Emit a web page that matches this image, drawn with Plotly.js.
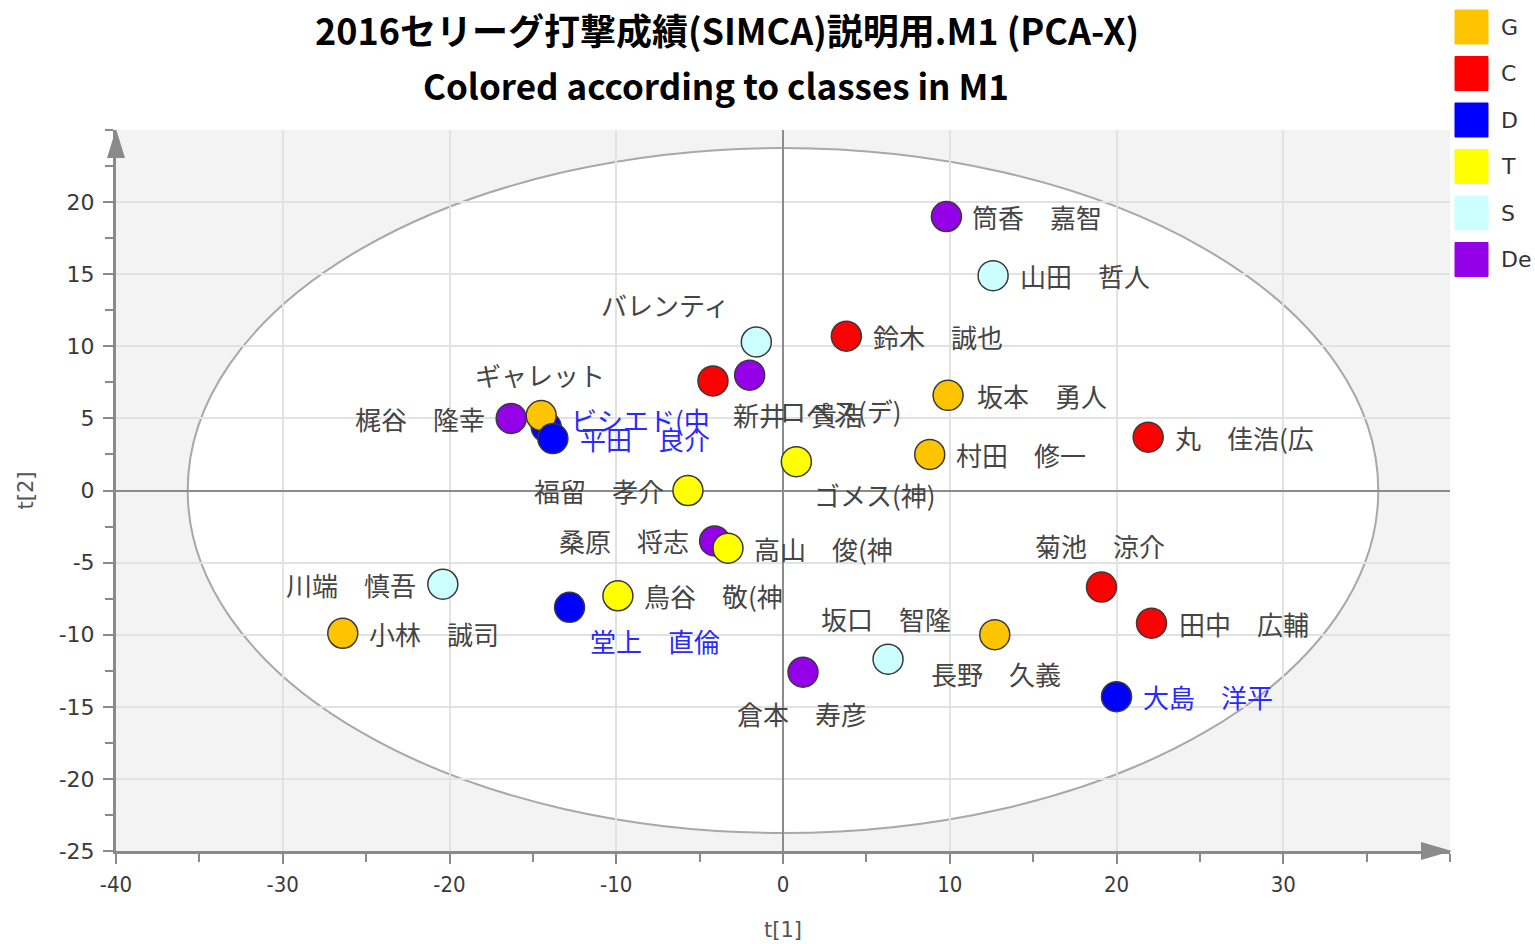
<!DOCTYPE html>
<html><head><meta charset="utf-8">
<script src="https://cdn.plot.ly/plotly-3.0.1.min.js"></script>
<style>html,body{margin:0;padding:0;background:#fff;} #chart{width:1535px;height:944px;}</style>
</head><body><div id="chart"></div>
<script>
// ---- data ----
const players = ["筒香　嘉智","山田　哲人","鈴木　誠也","バレンティ","新井　貴浩","ロペス(デ)","坂本　勇人","丸　佳浩(広","村田　修一","ゴメス(神)","福留　孝介","梶谷　隆幸","ビシエド(中","ギャレット","平田　良介","桑原　将志","高山　俊(神","川端　慎吾","小林　誠司","堂上　直倫","鳥谷　敬(神","倉本　寿彦","坂口　智隆","長野　久義","菊池　涼介","田中　広輔","大島　洋平"];
const teams = ["De","S","C","S","C","De","G","C","G","T","T","De","D","G","D","De","T","S","G","D","T","De","S","G","C","C","D"];
const t1 = [9.8,12.6,3.8,-1.6,-4.2,-2.0,9.9,21.9,8.8,0.8,-5.7,-16.3,-14.2,-14.5,-13.8,-4.1,-3.3,-20.4,-26.4,-12.8,-9.9,1.2,6.3,12.7,19.1,22.1,20.0];
const t2 = [19.0,14.9,10.7,10.3,7.6,8.0,6.6,3.7,2.5,2.0,0.0,5.0,4.4,5.2,3.6,-3.5,-4.0,-6.5,-9.9,-8.1,-7.3,-12.6,-11.7,-10.0,-6.7,-9.2,-14.3];
const classes = ["G","C","D","T","S","De"];
const xTicks = [-40,-30,-20,-10,0,10,20,30];
const yTicks = [-25,-20,-15,-10,-5,0,5,10,15,20];
const titleLine1 = "2016セリーグ打撃成績(SIMCA)説明用.M1 (PCA-X)";
const titleLine2 = "Colored according to classes in M1";
const ellipseT1 = 35.7, ellipseT2 = 23.75; // Hotelling T2 ellipse semi-axes

// ---- style ----
const classColors = {G:"#FFC400", C:"#FF0000", D:"#0000FF", T:"#FFFF00", S:"#CCFFFF", De:"#9400E8"};
// label placement: [anchor, dx px, dy px]
const labelPlace = [
 ["l",24,0],["l",25,0],["l",25,0],["r",-25,37],["l",18,-34],["l",28,-35],["l",27,0],["l",25,0],["l",24,0],["l",16,-33],
 ["r",-22,0],["r",-24,0],["l",23,8],["c",-1,41],["l",25,0],["r",-24,0],["l",24,0],["r",-25,0],["l",24,0],["l",18,-33],
 ["l",24,0],["l",-68,-41],["l",-69,41],["l",-66,-39],["l",-68,42],["l",25,0],["l",24,0]
];
const anchorMap = {l:"left", r:"right", c:"center"};
const labelFont = "Noto Sans CJK JP, sans-serif";
const axisGray = "#8a8a8a";

const trace = {
  type: "scatter", mode: "markers",
  x: t1, y: t2, text: players,
  marker: {size: 30, color: teams.map(t => classColors[t]), line: {color: "#3a3a3a", width: 1.5}},
  hoverinfo: "text", showlegend: false, cliponaxis: false
};

const annotations = players.map((p, i) => ({
  x: t1[i], y: t2[i], xref: "x", yref: "y", text: p, showarrow: false,
  xanchor: anchorMap[labelPlace[i][0]], yanchor: "middle",
  xshift: labelPlace[i][1], yshift: labelPlace[i][2],
  font: {family: labelFont, size: 26, color: teams[i] === "D" ? "#2a2aff" : "#454545"}
}));

// second title line
annotations.push({
  xref: "paper", yref: "paper", x: (716 - 116) / 1334, y: 1, yshift: 46,
  xanchor: "center", yanchor: "middle", showarrow: false, text: titleLine2,
  font: {family: "Noto Sans CJK JP, sans-serif", size: 35, color: "#000", weight: "bold"}
});

const shapes = [
  {type: "circle", xref: "x", yref: "y", x0: -ellipseT1, x1: ellipseT1, y0: -ellipseT2, y1: ellipseT2,
   fillcolor: "#ffffff", line: {color: "#a8a8a8", width: 2}, layer: "below"},
  // axis arrows
  {type: "path", xref: "paper", yref: "paper", xsizemode: "pixel", ysizemode: "pixel", xanchor: 0, yanchor: 1,
   path: "M 0 1 L -9 -28 L 9 -28 Z", fillcolor: axisGray, line: {width: 0}, layer: "above"},
  {type: "path", xref: "paper", yref: "paper", xsizemode: "pixel", ysizemode: "pixel", xanchor: 1, yanchor: 0,
   path: "M 2 0 L -29 9 L -29 -9 Z", fillcolor: axisGray, line: {width: 0}, layer: "above"}
];

// custom legend from classes
classes.forEach((c, k) => {
  const top = 130 - 10 - k * 46.5;
  shapes.push({type: "rect", xref: "paper", yref: "paper", xsizemode: "pixel", ysizemode: "pixel",
    xanchor: 1, yanchor: 1, x0: 5, x1: 38, y0: top - 34, y1: top,
    fillcolor: classColors[c], line: {color: classColors[c], width: 1}});
  annotations.push({xref: "paper", yref: "paper", x: 1, y: 1, xshift: 49, yshift: top - 17,
    xanchor: "left", yanchor: "middle", showarrow: false, text: c,
    font: {family: "DejaVu Sans, sans-serif", size: 22, color: "#333"}});
});

const tickFont = {family: "DejaVu Sans, sans-serif", size: 22, color: "#3a3a3a"};
const layout = {
  width: 1535, height: 944,
  margin: {l: 116, r: 85, t: 130, b: 93},
  paper_bgcolor: "#ffffff", plot_bgcolor: "#f3f3f3",
  title: {text: titleLine1, x: 727 / 1535, xanchor: "center", xref: "container",
          y: 1 - 32 / 944, yanchor: "middle", yref: "container",
          font: {family: "Noto Sans CJK JP, sans-serif", size: 36, color: "#000", weight: "bold"}},
  xaxis: {range: [-40, 40], tickmode: "array", tickvals: xTicks, ticktext: xTicks.map(String),
          showgrid: true, gridcolor: "#e2e2e2", gridwidth: 2,
          zeroline: true, zerolinecolor: "#8c8c8c", zerolinewidth: 2,
          showline: true, linecolor: axisGray, linewidth: 3,
          ticks: "outside", ticklen: 10, tickwidth: 2, tickcolor: axisGray,
          minor: {tickmode: "linear", tick0: 0, dtick: 5, ticks: "outside", ticklen: 8, tickwidth: 2, tickcolor: axisGray, showgrid: false},
          tickfont: Object.assign({}, tickFont, {family: "DejaVu Sans Condensed, Liberation Sans Narrow, DejaVu Sans, sans-serif", size: 22}),
          ticklabelstandoff: 2,
          title: {text: "t[1]", font: {family: "DejaVu Sans, sans-serif", size: 21, color: "#555"}, standoff: 26},
          fixedrange: true},
  yaxis: {range: [-25, 25], tickmode: "array", tickvals: yTicks, ticktext: yTicks.map(String),
          showgrid: true, gridcolor: "#e2e2e2", gridwidth: 2,
          zeroline: true, zerolinecolor: "#8c8c8c", zerolinewidth: 2,
          showline: true, linecolor: axisGray, linewidth: 3,
          ticks: "outside", ticklen: 10, tickwidth: 2, tickcolor: axisGray,
          minor: {tickmode: "linear", tick0: 0, dtick: 2.5, ticks: "outside", ticklen: 8, tickwidth: 2, tickcolor: axisGray, showgrid: false},
          tickfont: tickFont, ticklabelstandoff: 4,
          title: {text: "t[2]", font: {family: "DejaVu Sans, sans-serif", size: 21, color: "#555"}, standoff: 20},
          fixedrange: true},
  shapes: shapes,
  annotations: annotations,
  showlegend: false,
  hovermode: "closest"
};

Plotly.newPlot("chart", [trace], layout, {displayModeBar: false, staticPlot: false});
</script>
</body></html>
